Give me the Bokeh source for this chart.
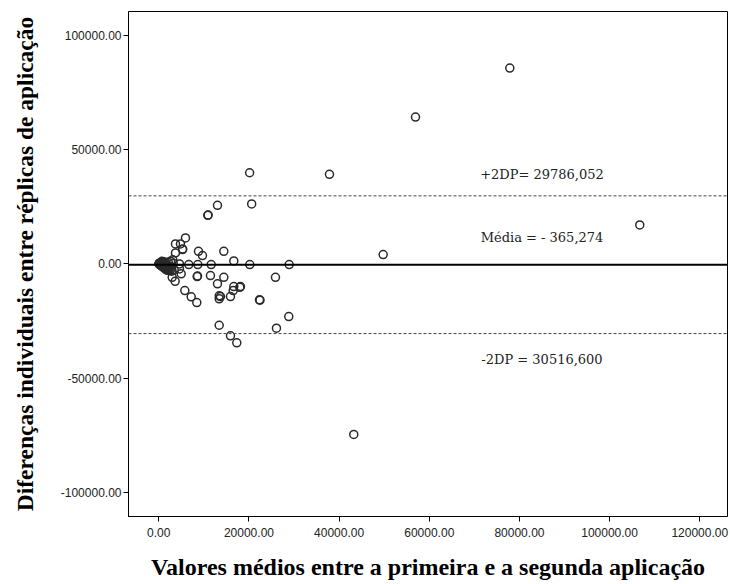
from bokeh.plotting import figure
from bokeh.models import Range1d, FixedTicker, NumeralTickFormatter, Span, Label, ColumnDataSource
from bokeh.embed import file_html
from bokeh.resources import INLINE

# Means of the two applications (x) and individual differences (y)
media_x = [
    77860, 56940, 20150, 37860, 13020, 20600, 10870, 10950, 106690, 49770,
    5920, 4810, 3700, 5260, 5300, 3700, 8800, 9690, 14420, 16640,
    4590, 6650, 8650, 11620, 20180, 28920,
    4590, 2970, 4970, 3630, 8510, 8600, 11460, 14420, 25880,
    5770, 7190, 8430, 13020, 16640, 17960, 16500, 18120, 13400, 13400, 13690, 15900,
    22330, 22450, 28830, 26100, 13400, 15900, 17300, 43250,
    100, 150, 200, 250, 300, 350, 400, 450, 500, 550, 600, 650, 700, 750, 800,
    850, 900, 950, 1000, 1050, 1100, 1200, 1250, 1300, 1400, 1450, 1500, 1600,
    1700, 1800, 1900, 2000, 2100, 2200, 2300, 2500, 2600, 2700, 2900, 3100,
    3200, 3400, 60, 30, 1150, 700,
]
diferenca_y = [
    85740, 64300, 39900, 39190, 25640, 26250, 21270, 21400, 17060, 4070,
    11370, 8750, 8750, 6260, 6500, 4810, 5510, 3630, 5510, 1310,
    0, -300, -300, -300, -300, -300,
    -2190, -5860, -4370, -7610, -5560, -5300, -5120, -5860, -5860,
    -11680, -14440, -16930, -8750, -9930, -10240, -11680, -9930, -14000, -15310, -14300, -14300,
    -15750, -15900, -23050, -28170, -26860, -31500, -34560, -74670,
    200, -100, 400, -300, 100, -500, 600, -200, 0, -800, 300, -400, -1000, 200, -600,
    -1200, 500, -300, -1500, 0, -900, -1800, 400, -600, -2100, -1100, 200, -2500,
    -1400, -300, -2800, -1900, 700, -2400, -1000, -3000, 1200, -2000, -3200, 1800,
    300, -2600, 30, -50, 900, 1100,
]

media = -365.274
limite_sup = 29786.052
limite_inf = -30516.600

x_ticks = [0, 20000, 40000, 60000, 80000, 100000, 120000]
y_ticks = [-100000, -50000, 0, 50000, 100000]

rotulo_sup = "+2DP= 29786,052"
rotulo_media = "Média = - 365,274"
rotulo_inf = "-2DP = 30516,600"

p = figure(
    width=730, height=584,
    x_range=Range1d(-6720, 126150), y_range=Range1d(-110600, 110500),
    output_backend="svg", toolbar_location=None,
    min_border_left=128, min_border_right=3, min_border_top=11, min_border_bottom=68,
)
p.background_fill_color = "white"
p.border_fill_color = "white"
p.outline_line_color = "black"
p.outline_line_width = 1
p.xgrid.visible = False
p.ygrid.visible = False

for ax in (p.xaxis[0], p.yaxis[0]):
    ax.axis_line_color = "black"
    ax.major_tick_line_color = "black"
    ax.major_tick_out = 5
    ax.major_tick_in = 0
    ax.minor_tick_line_color = None
    ax.major_label_text_font = "Liberation Sans"
    ax.major_label_text_font_size = "12px"
    ax.major_label_text_color = "#222222"
    ax.formatter = NumeralTickFormatter(format="0.00")
    ax.axis_label_text_font = "Liberation Serif"
    ax.axis_label_text_font_style = "bold"
    ax.axis_label_text_color = "black"

p.xaxis[0].ticker = FixedTicker(ticks=x_ticks)
p.yaxis[0].ticker = FixedTicker(ticks=y_ticks)
p.xaxis[0].axis_label = "Valores médios entre a primeira e a segunda aplicação"
p.yaxis[0].axis_label = "Diferenças individuais entre réplicas de aplicação"
p.xaxis[0].axis_label_text_font_size = "24px"
p.yaxis[0].axis_label_text_font_size = "23.5px"
p.xaxis[0].major_label_standoff = 6
p.yaxis[0].major_label_standoff = 2
p.xaxis[0].axis_label_standoff = 14
p.yaxis[0].axis_label_standoff = 20

p.add_layout(Span(location=media, dimension="width", line_color="black", line_width=2))
p.add_layout(Span(location=limite_sup, dimension="width", line_color="#444444", line_width=1, line_dash="3 2"))
p.add_layout(Span(location=limite_inf, dimension="width", line_color="#444444", line_width=1, line_dash="3 2"))

src = ColumnDataSource(dict(x=media_x, y=diferenca_y))
p.scatter("x", "y", source=src, marker="circle", size=8, fill_color=None,
          line_color="#2a2a2a", line_width=1.5)

for txt, yv in ((rotulo_sup, 39060), (rotulo_media, 11640), (rotulo_inf, -41860)):
    p.add_layout(Label(x=85000, y=yv, text=txt, text_align="center", text_baseline="middle",
                       text_font="DejaVu Serif", text_font_size="13px", text_color="#222222"))

open("out.html", "w").write(file_html(p, INLINE))
